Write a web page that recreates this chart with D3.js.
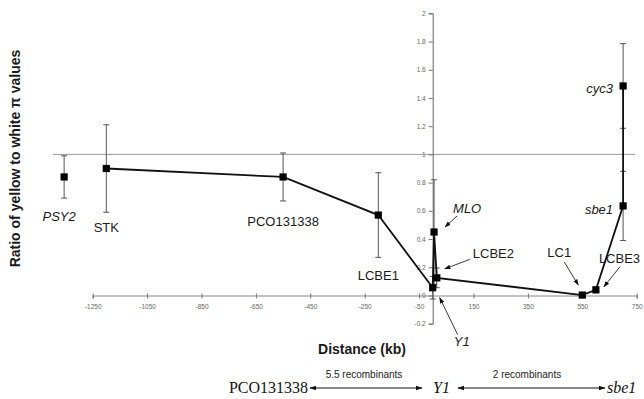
<!DOCTYPE html>
<html>
<head>
<meta charset="utf-8">
<script src="https://cdn.jsdelivr.net/npm/d3@7"></script>
<style>
  html, body { margin: 0; padding: 0; background: #fff; }
  svg { display: block; }
</style>
</head>
<body>
<svg id="chart" width="644" height="399"></svg>
<script>
// ---------- data ----------
const markers   = ["PSY2", "STK", "PCO131338", "LCBE1", "Y1", "MLO", "LCBE2", "LC1", "LCBE3", "sbe1", "cyc3"];
const distances = [-1355, -1200, -550, -200, 0, 5, 15, 550, 600, 700, 700];
const ratios    = [0.84, 0.90, 0.84, 0.57, 0.055, 0.45, 0.125, 0.003, 0.04, 0.635, 1.485];
const errors    = [0.15, 0.31, 0.17, 0.30, 0.08, 0.37, 0.07, 0.01, 0.02, 0.245, 0.30];
const connected = [false, true, true, true, true, true, true, true, true, true, true];
const italicNames = ["PSY2", "Y1", "MLO", "sbe1", "cyc3"];
const xTicks = [-1250, -1050, -850, -650, -450, -250, -50, 150, 350, 550, 750];
const yTicks = [-0.2, 0, 0.2, 0.4, 0.6, 0.8, 1, 1.2, 1.4, 1.6, 1.8, 2];
const referenceRatio = 1;
const yTitle = "Ratio of yellow to white \u03c0 values";
const xTitle = "Distance (kb)";
const recombLeft = "5.5 recombinants";
const recombRight = "2 recombinants";

// ---------- layout ----------
const svg = d3.select("#chart");
const x = d3.scaleLinear().domain([-1250, 750]).range([92.7, 636.7]);
const y = d3.scaleLinear().domain([-0.2, 2]).range([323.7, 13.3]);

// label placement: offsets from the point (px); arrow = [sx, sy, ex, ey]
const labelLayout = {
  PSY2:      { dx: -5,  dy: 44,   anchor: "middle" },
  STK:       { dx: 0,   dy: 63,   anchor: "middle" },
  PCO131338: { dx: 0,   dy: 49,   anchor: "middle" },
  LCBE1:     { dx: 0,   dy: 65,   anchor: "middle" },
  Y1:        { dx: 29,  dy: 58,   anchor: "middle", arrow: [25, 47, 7, 10] },
  MLO:       { dx: 19,  dy: -19,  anchor: "start",  arrow: [23, -16, 11, -5] },
  LCBE2:     { dx: 36,  dy: -19.5,anchor: "start",  arrow: [33, -18.5, 8, -9] },
  LC1:       { dx: -35, dy: -38,  anchor: "start",  arrow: [-18, -33, -4, -10] },
  LCBE3:     { dx: 3,   dy: -27,  anchor: "start",  arrow: [24, -23, 8, -3] },
  sbe1:      { dx: -10, dy: 8.5,  anchor: "end" },
  cyc3:      { dx: -10, dy: 7,    anchor: "end" }
};

const data = markers.map((m, i) => ({
  name: m, d: distances[i], r: ratios[i], e: errors[i], c: connected[i]
}));

// arrow marker defs
const defs = svg.append("defs");
defs.append("marker").attr("id", "ah").attr("viewBox", "0 0 10 10")
  .attr("refX", 9).attr("refY", 5).attr("markerWidth", 7).attr("markerHeight", 7)
  .attr("orient", "auto-start-reverse")
  .append("path").attr("d", "M0,1.5 L10,5 L0,8.5 Z").attr("fill", "#111");

// reference line at ratio 1
svg.append("line")
  .attr("x1", 53).attr("x2", 635)
  .attr("y1", y(referenceRatio)).attr("y2", y(referenceRatio))
  .attr("stroke", "#9a9a9a").attr("stroke-width", 1);

// x axis (at y = 0)
const xAxis = d3.axisBottom(x).tickValues(xTicks).tickSize(3).tickPadding(6)
  .tickFormat(d => String(d));
const gx = svg.append("g").attr("transform", `translate(0,${y(0)})`).call(xAxis);
gx.select(".domain").attr("stroke", "#888").attr("stroke-width", 1.2);
gx.selectAll(".tick line").attr("stroke", "#777").attr("y1", -2);
gx.selectAll(".tick text").attr("fill", "#666").style("font-family", "Liberation Sans, Arial, sans-serif").style("font-size", "6.5px");

// y axis (at x = 0)
const yAxis = d3.axisLeft(y).tickValues(yTicks).tickSize(4).tickPadding(3)
  .tickFormat(d => (d === 0 ? "0" : String(+d.toFixed(1))));
const gy = svg.append("g").attr("transform", `translate(${x(0)},0)`).call(yAxis);
gy.select(".domain").attr("stroke", "#666").attr("stroke-width", 1);
gy.selectAll(".tick line").attr("stroke", "#777");
gy.selectAll(".tick text").attr("fill", "#666").style("font-family", "Liberation Sans, Arial, sans-serif").style("font-size", "6.5px");

// error bars
const eb = svg.append("g").attr("stroke", "#555").attr("stroke-width", 1);
data.forEach(p => {
  const cx = x(p.d);
  eb.append("line").attr("x1", cx).attr("x2", cx).attr("y1", y(p.r + p.e)).attr("y2", y(p.r - p.e));
  [p.r + p.e, p.r - p.e].forEach(v => {
    eb.append("line").attr("x1", cx - 3).attr("x2", cx + 3).attr("y1", y(v)).attr("y2", y(v));
  });
});

// connecting line
const line = d3.line().x(p => x(p.d)).y(p => y(p.r));
svg.append("path").datum(data.filter(p => p.c))
  .attr("d", line).attr("fill", "none").attr("stroke", "#111").attr("stroke-width", 1.8);

// square markers
svg.append("g").selectAll("rect").data(data).join("rect")
  .attr("x", p => x(p.d) - 3.6).attr("y", p => y(p.r) - 3.6)
  .attr("width", 7.2).attr("height", 7.2).attr("fill", "#000");

// point labels and arrows
const lg = svg.append("g").style("font-family", "Liberation Sans, Arial, sans-serif").style("font-size", "13px").attr("fill", "#1a1a1a");
data.forEach(p => {
  const L = labelLayout[p.name];
  const px = x(p.d), py = y(p.r);
  lg.append("text").attr("x", px + L.dx).attr("y", py + L.dy)
    .attr("text-anchor", L.anchor)
    .style("font-style", italicNames.includes(p.name) ? "italic" : "normal")
    .text(p.name);
  if (L.arrow) {
    svg.append("line")
      .attr("x1", px + L.arrow[0]).attr("y1", py + L.arrow[1])
      .attr("x2", px + L.arrow[2]).attr("y2", py + L.arrow[3])
      .attr("stroke", "#222").attr("stroke-width", 0.9).attr("marker-end", "url(#ah)");
  }
});

// axis titles
svg.append("text").attr("transform", "translate(20,158.5) rotate(-90)")
  .attr("text-anchor", "middle")
  .style("font-family", "Liberation Sans, Arial, sans-serif").style("font-weight", "bold").style("font-size", "14px")
  .attr("fill", "#1a1a1a").text(yTitle);
svg.append("text").attr("x", 362).attr("y", 354).attr("text-anchor", "middle")
  .style("font-family", "Liberation Sans, Arial, sans-serif").style("font-weight", "bold").style("font-size", "14px")
  .attr("fill", "#1a1a1a").text(xTitle);

// recombination annotation
const ann = svg.append("g");
const serif = "Liberation Serif, Times New Roman, serif";
ann.append("text").attr("x", 308).attr("y", 393).attr("text-anchor", "end")
  .style("font-family", serif).style("font-size", "16px").attr("fill", "#111").text("PCO131338");
ann.append("text").attr("x", 433).attr("y", 393).attr("text-anchor", "start")
  .style("font-family", serif).style("font-size", "16px").style("font-style", "italic").attr("fill", "#111").text("Y1");
ann.append("text").attr("x", 607).attr("y", 393).attr("text-anchor", "start")
  .style("font-family", serif).style("font-size", "16px").style("font-style", "italic").attr("fill", "#111").text("sbe1");
[[310, 422], [458, 605]].forEach(([a, b]) => {
  ann.append("line").attr("x1", a).attr("x2", b).attr("y1", 388).attr("y2", 388)
    .attr("stroke", "#111").attr("stroke-width", 1)
    .attr("marker-start", "url(#ah)").attr("marker-end", "url(#ah)");
});
ann.append("text").attr("x", 364).attr("y", 378).attr("text-anchor", "middle")
  .style("font-family", "Liberation Sans, Arial, sans-serif").style("font-size", "10px").attr("fill", "#222").text(recombLeft);
ann.append("text").attr("x", 527).attr("y", 378).attr("text-anchor", "middle")
  .style("font-family", "Liberation Sans, Arial, sans-serif").style("font-size", "10px").attr("fill", "#222").text(recombRight);
</script>
</body>
</html>
